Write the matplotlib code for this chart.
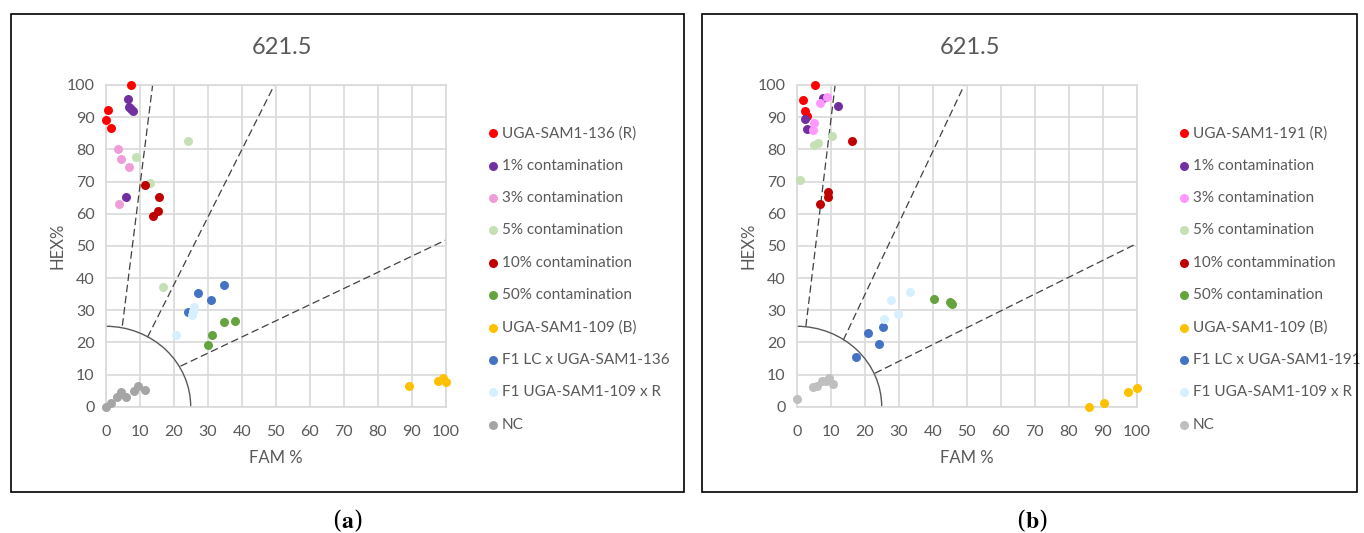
import numpy as np
import matplotlib
matplotlib.use('Agg')
import matplotlib.pyplot as plt
from matplotlib.patches import Rectangle, Arc

plt.rcParams['font.family'] = ['Lato', 'DejaVu Sans']
plt.rcParams['mathtext.fontset'] = 'stix'

# ---------------- panel (a) data ----------------
a_labels = ['UGA-SAM1-136 (R)', '1% contamination', '3% contamination', '5% contamination',
            '10% contamination', '50% contamination', 'UGA-SAM1-109 (B)',
            'F1 LC x UGA-SAM1-136', 'F1 UGA-SAM1-109 x R', 'NC']
a_fam = [
    [7.5, 0.8, 0.0, 1.6],
    [6.5, 6.9, 7.5, 8.1, 6.0],
    [3.7, 4.5, 6.8, 4.0],
    [24.2, 8.9, 13.0, 16.9],
    [11.6, 15.7, 15.4, 14.0],
    [34.8, 38.0, 31.4, 30.2],
    [89.2, 97.8, 99.1, 100.0],
    [34.8, 27.2, 31.1, 24.3],
    [26.0, 25.3, 20.6, 25.6],
    [0.0, 1.5, 3.2, 4.5, 6.0, 8.4, 9.6, 11.6],
]
a_hex = [
    [100.0, 92.1, 89.0, 86.6],
    [95.7, 93.1, 92.5, 91.8, 65.3],
    [80.1, 77.0, 74.6, 62.9],
    [82.5, 77.5, 69.6, 37.3],
    [69.0, 65.1, 60.7, 59.3],
    [26.4, 26.6, 22.4, 19.3],
    [6.4, 8.1, 8.8, 7.7],
    [37.8, 35.2, 33.2, 29.3],
    [30.9, 28.5, 22.2, 29.7],
    [0.0, 1.2, 3.1, 4.6, 2.9, 5.0, 6.4, 5.2],
]
a_colors = ['#FF0000', '#7030A0', '#F09CD8', '#C5E0B4', '#C00000',
            '#65A33F', '#FFC000', '#4472C4', '#D6F0FF', '#A5A5A5']
# cluster boundary lines (x0, y0, x1, y1)
a_lines = [(4.9, 25.2, 13.8, 100), (12.3, 21.6, 49.6, 100), (22.0, 12.6, 100, 51.8)]

# ---------------- panel (b) data ----------------
b_labels = ['UGA-SAM1-191 (R)', '1% contamination', '3% contamination', '5% contamination',
            '10% contammination', '50% contamination', 'UGA-SAM1-109 (B)',
            'F1 LC x UGA-SAM1-191', 'F1 UGA-SAM1-109 x R', 'NC']
b_fam = [
    [5.3, 1.8, 2.4, 3.1],
    [7.6, 12.1, 2.4, 3.1],
    [8.9, 6.9, 5.1, 4.7],
    [10.5, 6.2, 5.0, 1.1],
    [16.2, 9.2, 9.3, 6.9],
    [40.4, 45.1, 45.8, 45.4],
    [86.0, 90.3, 97.4, 100.0],
    [25.5, 21.1, 24.3, 17.4],
    [33.2, 27.8, 29.9, 25.7],
    [0.0, 4.9, 5.9, 7.4, 9.5, 10.8, 8.5],
]
b_hex = [
    [100.0, 95.3, 91.9, 90.5],
    [96.0, 93.6, 89.3, 86.4],
    [96.2, 94.5, 88.2, 85.9],
    [84.1, 81.9, 81.2, 70.5],
    [82.7, 66.7, 65.1, 62.9],
    [33.5, 32.6, 31.9, 32.3],
    [0.0, 1.0, 4.7, 5.8],
    [24.9, 23.0, 19.5, 15.4],
    [35.6, 33.2, 28.7, 27.3],
    [2.5, 6.1, 6.4, 8.1, 8.8, 7.1, 8.0],
]
b_colors = ['#FF0000', '#7030A0', '#FF99FF', '#C5E0B4', '#C00000',
            '#65A33F', '#FFC000', '#4472C4', '#D6F0FF', '#BFBFBF']
b_lines = [(2.7, 25.0, 11.3, 100), (13.7, 20.7, 49.3, 100), (23.0, 10.4, 100, 50.7)]

arc_radius = 25
ticks = list(range(0, 101, 10))
grey = '#595959'

W, H = 1364, 533
fig = plt.figure(figsize=(W / 100, H / 100), dpi=100)


def draw_panel(left_px, fam, hexv, colors, labels, lines, title, title_x, leg_x, box, caption_x, caption):
    ax = fig.add_axes([left_px / W, 1 - 406.7 / H, 340 / W, 321.7 / H])
    for xs, ys, c, lab in zip(fam, hexv, colors, labels):
        ax.scatter(xs, ys, s=42, color=c, label=lab, zorder=3, clip_on=False, linewidths=0)
    for x0, y0, x1, y1 in lines:
        ax.plot([x0, x1], [y0, y1], color='#404040', lw=0.9, ls=(0, (6, 3)), zorder=2)
    ax.add_patch(Arc((0, 0), 2 * arc_radius, 2 * arc_radius, theta1=0, theta2=90,
                     color='#595959', lw=1.0, zorder=2))
    ax.set_xlim(0, 100)
    ax.set_ylim(0, 100)
    ax.set_xticks(ticks)
    ax.set_yticks(ticks)
    ax.grid(color='#D9D9D9', lw=1.2, zorder=0)
    ax.set_axisbelow(True)
    for sp in ax.spines.values():
        sp.set_color('#D9D9D9')
        sp.set_linewidth(1.2)
    ax.tick_params(length=0, labelsize=11.5, labelcolor=grey)
    ax.tick_params(axis='x', pad=13)
    ax.tick_params(axis='y', pad=8)
    ax.set_xlabel('FAM %', fontsize=12, color=grey, labelpad=8)
    ax.set_ylabel('HEX%', fontsize=12, color=grey, labelpad=1)
    fig.text(title_x / W, 1 - 48 / H, title, fontsize=17, color=grey, ha='center', va='center')
    ax.legend(loc='upper left', bbox_to_anchor=(leg_x / W, 1 - 126 / H),
              bbox_transform=fig.transFigure, frameon=False, fontsize=11,
              labelcolor=grey, handletextpad=0.1, handlelength=1.0, markerscale=1.0,
              labelspacing=1.2, borderpad=0, borderaxespad=0, scatterpoints=1)
    x0, y0, x1, y1 = box
    fig.add_artist(Rectangle((x0 / W, 1 - y1 / H), (x1 - x0) / W, (y1 - y0) / H,
                             transform=fig.transFigure, fill=False, ec='black', lw=1.2))
    fig.text(caption_x / W, 1 - 521 / H, caption, fontsize=17, ha='center', va='center',
             family='serif')
    return ax


draw_panel(105.7, a_fam, a_hex, a_colors, a_labels, a_lines, '621.5', 282, 485,
           (11, 13.5, 683.5, 491.7), 347, r'($\mathbf{a}$)')
draw_panel(796.7, b_fam, b_hex, b_colors, b_labels, b_lines, '621.5', 970, 1176,
           (702, 13.5, 1357, 491.7), 1032, r'($\mathbf{b}$)')

fig.savefig('out.png', dpi=100)
